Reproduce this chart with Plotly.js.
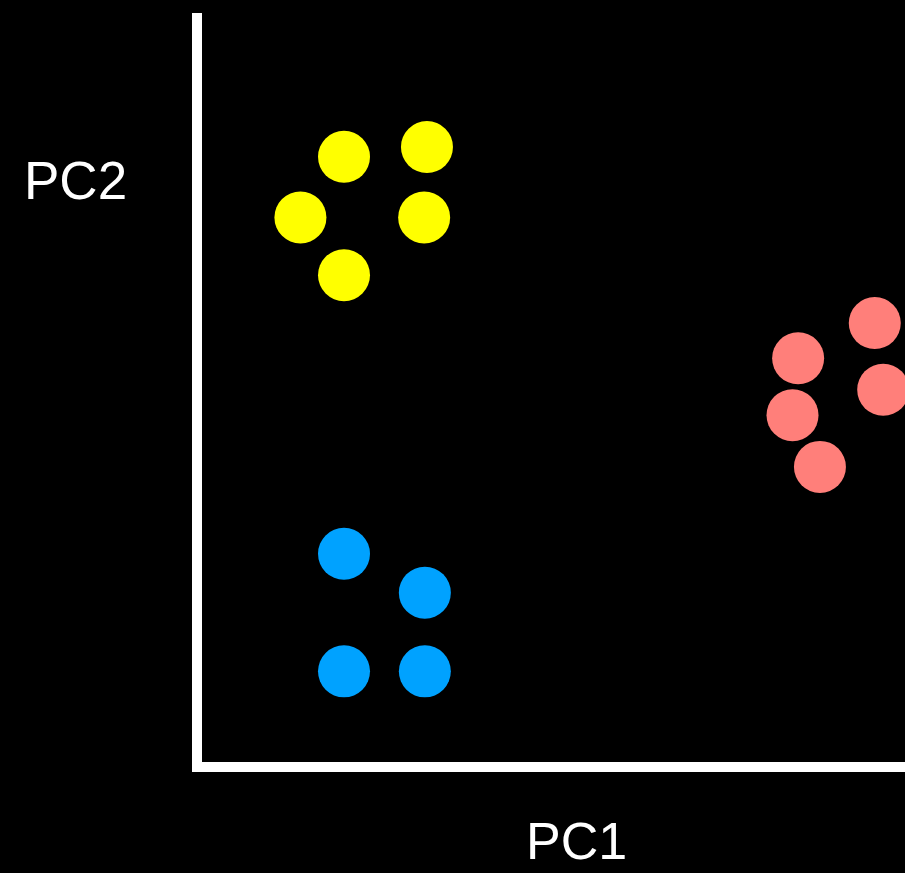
<!DOCTYPE html>
<html>
<head>
<meta charset="utf-8">
<script src="https://cdn.plot.ly/plotly-3.0.1.min.js"></script>
<style>html,body{margin:0;padding:0;background:#000;}</style>
</head>
<body>
<div id="chart" style="width:905px;height:873px;"></div>
<script>
// Cluster data (PC1, PC2) in arbitrary units 0..10
const yellowPC1 = [2.02, 3.20, 1.40, 3.16, 2.02];
const yellowPC2 = [8.08, 8.21, 7.27, 7.27, 6.50];
const redPC1 = [9.57, 8.48, 9.69, 8.40, 8.79];
const redPC2 = [5.86, 5.39, 4.97, 4.63, 3.94];
const bluePC1 = [2.02, 3.17, 2.02, 3.17];
const bluePC2 = [2.78, 2.26, 1.21, 1.21];
const xLabel = "PC1";
const yLabel = "PC2";

function cluster(x, y, color) {
  return {
    type: 'scatter', mode: 'markers', x: x, y: y,
    marker: {size: 52, color: color, line: {width: 0}},
    hoverinfo: 'skip', showlegend: false, cliponaxis: false
  };
}

const data = [
  cluster(yellowPC1, yellowPC2, '#FFFF00'),
  cluster(redPC1, redPC2, '#FF7F7A'),
  cluster(bluePC1, bluePC2, '#00A2FF')
];

const axisCommon = {
  range: [0, 10], showgrid: false, zeroline: false, showticklabels: false,
  ticks: '', showline: true, linecolor: '#FFFFFF', linewidth: 10, fixedrange: true
};

const layout = {
  width: 905, height: 873,
  margin: {l: 202, r: 0, t: 13, b: 111, pad: 0},
  paper_bgcolor: '#000000', plot_bgcolor: '#000000',
  xaxis: Object.assign({}, axisCommon),
  yaxis: Object.assign({}, axisCommon),
  font: {family: 'Liberation Sans, Arial, sans-serif', color: '#FFFFFF'},
  annotations: [
    {text: xLabel, xref: 'paper', yref: 'paper', x: 0.533, y: -0.1455,
     xanchor: 'center', yanchor: 'bottom', showarrow: false, borderpad: 0,
     font: {size: 52, color: '#FFFFFF'}},
    {text: yLabel, xref: 'paper', yref: 'paper', x: -0.180, y: 0.776,
     xanchor: 'center', yanchor: 'middle', showarrow: false,
     font: {size: 53, color: '#FFFFFF'}}
  ]
};

Plotly.newPlot('chart', data, layout, {displayModeBar: false, staticPlot: true});
</script>
</body>
</html>
